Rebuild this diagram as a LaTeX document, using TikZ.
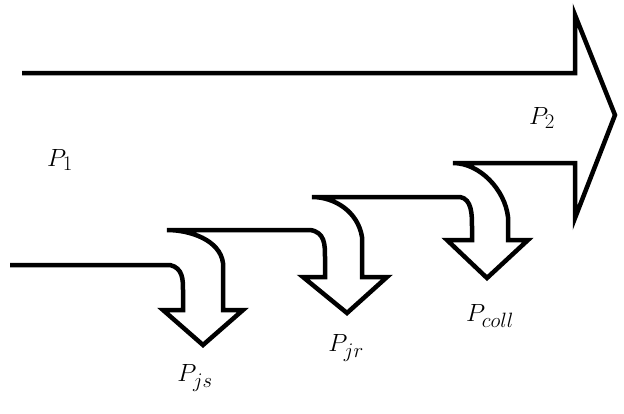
\documentclass[tikz,border=0pt]{standalone}
\begin{document}
\begin{tikzpicture}[x=1pt,y=-1pt,line width=4.5pt,
 lbl/.style={font=\fontsize{30}{32}\selectfont,inner sep=0pt}]
\useasboundingbox (0,0) rectangle (624,413);
\draw[line join=miter] (10,265) -- (170,265) .. controls (183,268) and (183,280) .. (183,290) -- (183,310) -- (163,310) -- (203,345) -- (243,310) -- (223,310) -- (223,263)
 .. controls (220,240) and (190,230) .. (167,230) -- (310,230)
 .. controls (325,232) and (325,245) .. (325,257) -- (325,277) -- (303,277) -- (347,313) -- (387,277) -- (362,277) -- (362,237)
 .. controls (358,212) and (335,197) .. (312,197) -- (460,197)
 .. controls (472,199) and (472,215) .. (472,227) -- (472,240) -- (447,240) -- (487,278) -- (528,240) -- (508,240) -- (508,217)
 .. controls (505,190) and (480,163) .. (453,163) -- (575,163) -- (575,218) -- (615,115) -- (575,15) -- (575,73) -- (22,73);
\node[lbl] (p1) at (60,160) {$P_1$};
\node[lbl] (p2) at (542,118) {$P_2$};
\node[lbl] (pjs) at (195,378) {$P_{js}$};
\node[lbl] (pjr) at (346,348) {$P_{jr}$};
\node[lbl] (pc) at (490,316) {$P_{coll}$};
\end{tikzpicture}
\end{document}
